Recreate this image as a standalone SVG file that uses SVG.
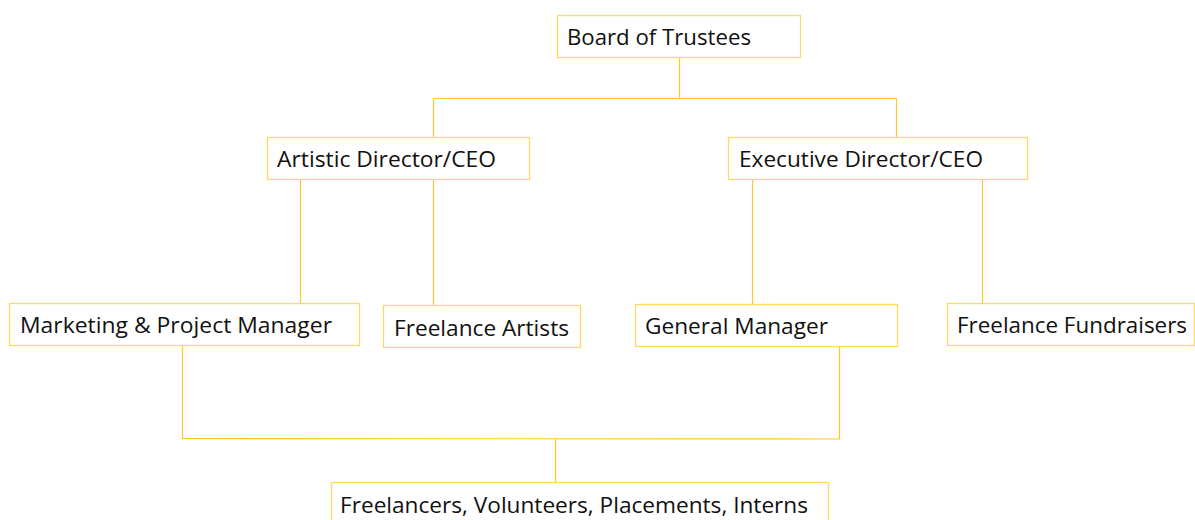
<svg xmlns="http://www.w3.org/2000/svg" width="1195" height="520" viewBox="0 0 1195 520">
<style>
.box{fill:#fff;stroke:#FFD966;stroke-width:1.3}
.t{font-family:"Open Sans","Liberation Sans",sans-serif;font-size:21.5px;fill:#111}
.c{fill:none;stroke:#FFC829;stroke-width:1.2}
</style>
<rect width="1195" height="520" fill="#fff"/>
<g id="connectors">
<path class="c" d="M679.5 57V98.5M433.5 137V98.5H896.5V137"/>
<path class="c" d="M300.5 179V303M433.5 179V305"/>
<path class="c" d="M752.5 179V304M982.5 179V303"/>
<path class="c" d="M182.5 345V438.5L839.5 439V346M555.5 439V482"/>
</g>
<g id="board"><rect class="box" x="557.5" y="15.5" width="243" height="42"/><text class="t" x="567" y="44.5" textLength="184" lengthAdjust="spacingAndGlyphs">Board of Trustees</text></g>
<g id="artistic"><rect class="box" x="267.5" y="137.5" width="262" height="42"/><text class="t" x="277" y="166.5" textLength="219" lengthAdjust="spacingAndGlyphs">Artistic Director/CEO</text></g>
<g id="executive"><rect class="box" x="728.5" y="137.5" width="299" height="42"/><text class="t" x="739" y="166.5" textLength="244" lengthAdjust="spacingAndGlyphs">Executive Director/CEO</text></g>
<g id="marketing"><rect class="box" x="9.5" y="303.5" width="350" height="42"/><text class="t" x="20" y="332.5" textLength="312" lengthAdjust="spacingAndGlyphs">Marketing &amp; Project Manager</text></g>
<g id="artists"><rect class="box" x="383.5" y="305.5" width="197" height="42"/><text class="t" x="394" y="335.5" textLength="175" lengthAdjust="spacingAndGlyphs">Freelance Artists</text></g>
<g id="general"><rect class="box" x="635.5" y="304.5" width="262" height="42"/><text class="t" x="645" y="333.5" textLength="183" lengthAdjust="spacingAndGlyphs">General Manager</text></g>
<g id="fundraisers"><rect class="box" x="947.5" y="303.5" width="247" height="42"/><text class="t" x="957" y="332.5" textLength="230" lengthAdjust="spacingAndGlyphs">Freelance Fundraisers</text></g>
<g id="freelancers"><rect class="box" x="331.5" y="482.5" width="497" height="42"/><text class="t" x="340" y="512.5" textLength="468" lengthAdjust="spacingAndGlyphs">Freelancers, Volunteers, Placements, Interns</text></g>
</svg>
